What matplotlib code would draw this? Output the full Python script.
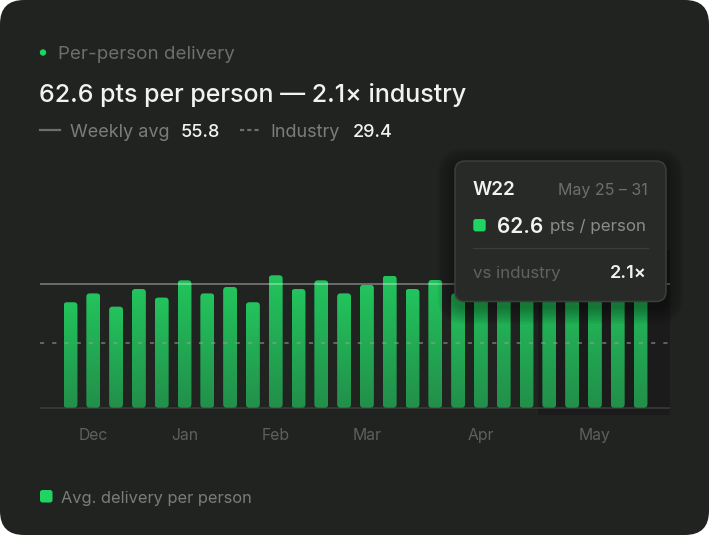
import numpy as np
import matplotlib.pyplot as plt
from matplotlib.patches import FancyBboxPatch, Rectangle, Circle
from matplotlib.colors import LinearSegmentedColormap
from matplotlib.transforms import blended_transform_factory

plt.rcParams['font.family'] = ['Inter', 'DejaVu Sans']
plt.rcParams['lines.scale_dashes'] = False

# weekly per-person delivery, Dec -> May (last bar is W22)
values = [47.7, 51.7, 45.7, 53.7, 49.8, 57.6, 51.7, 54.6, 47.7, 59.9,
          53.7, 57.6, 51.7, 55.6, 59.7, 53.7, 57.8, 51.7, 58.5, 61.0,
          57.0, 62.0, 60.0, 63.5, 61.5, 62.6]
month_labels = ['Dec', 'Jan', 'Feb', 'Mar', 'Apr', 'May']
month_pos = [1, 5, 9, 13, 18, 23]
may_first_week = 21
weekly_avg = 55.8
industry = 29.4
hover_week = 'W22'
hover_range = 'May 25 \u2013 31'
hover_value = 62.6
ratio = 2.1

W, H = 709, 535
BG = '#212321'
GRAY = '#6c706c'
WHITE = '#f1f2f1'
GREEN = '#1fd460'

fig = plt.figure(figsize=(W / 100, H / 100), dpi=100, facecolor='white')

# background layer (pixel coords, y measured from top)
bg = fig.add_axes([0, 0, 1, 1], zorder=0)
bg.set_xlim(0, W)
bg.set_ylim(H, 0)
bg.axis('off')
bg.add_patch(FancyBboxPatch((0, 0), W, H, boxstyle='round,pad=0,rounding_size=24',
                            facecolor=BG, edgecolor='none'))

# chart axes, 22.8 px per week, 2.211 px per point
px_x, px_y = 22.8, 2.211
base_px, top_px, bot_px = 407.7, 250, 416.5
ax = fig.add_axes([40 / W, (H - bot_px) / H, 630 / W, (bot_px - top_px) / H], zorder=1)
ax.patch.set_alpha(0)
ax.axis('off')
xmin = -30.5 / px_x
xmax = xmin + 630 / px_x
ymin = -(bot_px - base_px) / px_y
ymax = (base_px - top_px) / px_y

x = np.arange(len(values))

# highlighted month band
ax.add_patch(Rectangle((may_first_week - 0.5, -3.3), xmax - may_first_week + 0.5, 100,
                       facecolor='#1a1b1a', edgecolor='none', zorder=0.5))
ax.axhline(0, color='#393c39', lw=1.2, zorder=1)

cmap = LinearSegmentedColormap.from_list('g', ['#238f4a', '#22c45d'])
grad = np.linspace(0, 1, 256).reshape(-1, 1)
bars = ax.bar(x, values, width=0.61, color='none', zorder=2)
for r in bars:
    x0, w, h = r.get_x(), r.get_width(), r.get_height()
    p = FancyBboxPatch((x0, 0), w, h, boxstyle='round,pad=0,rounding_size=%f' % (3.5 / px_x),
                       mutation_aspect=px_x / px_y, facecolor='none', edgecolor='none')
    ax.add_patch(p)
    im = ax.imshow(grad, extent=[x0, x0 + w, 0, h], origin='lower', cmap=cmap,
                   aspect='auto', zorder=2, interpolation='bilinear')
    im.set_clip_path(p)

ax.axhline(weekly_avg, color='white', alpha=0.42, lw=1.1, zorder=4)
ax.axhline(industry, color='#9a9d9a', alpha=0.7, lw=1.1, dashes=(3, 5.8), zorder=4)
ax.set_xlim(xmin, xmax)
ax.set_ylim(ymin, ymax)

# foreground layer
fg = fig.add_axes([0, 0, 1, 1], zorder=3)
fg.set_xlim(0, W)
fg.set_ylim(H, 0)
fg.axis('off')
fg.patch.set_alpha(0)

tr = blended_transform_factory(ax.transData, fg.transData)
for lab, pos in zip(month_labels, month_pos):
    fg.text(pos, 440, lab, transform=tr, ha='center', va='baseline',
            fontsize=11.3, color='#5d615d')

# header
fg.add_patch(Circle((43, 52.5), 3.2, facecolor=GREEN, edgecolor='none'))
fg.text(58, 59, 'Per-person delivery', fontsize=13.5, color=GRAY, va='baseline')
fg.text(39, 101.7, f'{hover_value} pts per person \u2014 {ratio}\u00d7 industry',
        fontsize=18.0, color=WHITE, va='baseline', fontweight='medium')
fg.plot([40, 60], [130, 130], color='#6c706c', lw=1.6)
fg.text(70, 136.7, 'Weekly avg', fontsize=13, color='#7a7e7a', va='baseline')
fg.text(181, 136.7, f'{weekly_avg}', fontsize=13, color=WHITE, va='baseline',
        fontweight='medium')
fg.plot([240, 260], [130, 130], color='#6c706c', lw=1.6, dashes=(3, 2.2))
fg.text(270, 136.7, 'Industry', fontsize=13, color='#7a7e7a', va='baseline')
fg.text(353, 136.7, f'{industry}', fontsize=13, color=WHITE, va='baseline',
        fontweight='medium')

# legend
fg.add_patch(FancyBboxPatch((40, 490), 12.5, 12.5, boxstyle='round,pad=0,rounding_size=2.5',
                            facecolor=GREEN, edgecolor='none'))
fg.text(61, 502.7, 'Avg. delivery per person', fontsize=11.8, color='#7a7e7a', va='baseline')

# tooltip with soft shadow
tx, ty, tw, th = 455, 161, 211, 140.5
for k in range(1, 12):
    fg.add_patch(FancyBboxPatch((tx - 1.6 * k, ty - 1.6 * k + 5), tw + 3.2 * k, th + 3.2 * k,
                                boxstyle='round,pad=0,rounding_size=%f' % (10 + 1.6 * k),
                                facecolor='black', edgecolor='none', alpha=0.035))
fg.add_patch(FancyBboxPatch((tx, ty), tw, th, boxstyle='round,pad=0,rounding_size=10',
                            facecolor='#272a27', edgecolor='#3b3e3b', lw=1.1))
fg.text(473, 195, hover_week, fontsize=13.6, color=WHITE, va='baseline', fontweight='semibold')
fg.text(648, 195, hover_range, fontsize=11.5, color='#6c706c', va='baseline', ha='right')
fg.add_patch(FancyBboxPatch((473.3, 219), 12.4, 12.4, boxstyle='round,pad=0,rounding_size=2.5',
                            facecolor=GREEN, edgecolor='none'))
fg.text(496.5, 233.3, f'{hover_value}', fontsize=15.0, color=WHITE, va='baseline',
        fontweight='semibold')
fg.text(550.5, 231, 'pts / person', fontsize=12.2, color='#8a8e8a', va='baseline')
fg.plot([473, 648], [248.3, 248.3], color='#3a3d3a', lw=0.9)
fg.text(473, 278.3, 'vs industry', fontsize=12.2, color='#5f635f', va='baseline')
fg.text(646.5, 278.3, f'{ratio}\u00d7', fontsize=13, color=WHITE, va='baseline', ha='right',
        fontweight='semibold')

fig.savefig('out.png', dpi=100, facecolor='white')
